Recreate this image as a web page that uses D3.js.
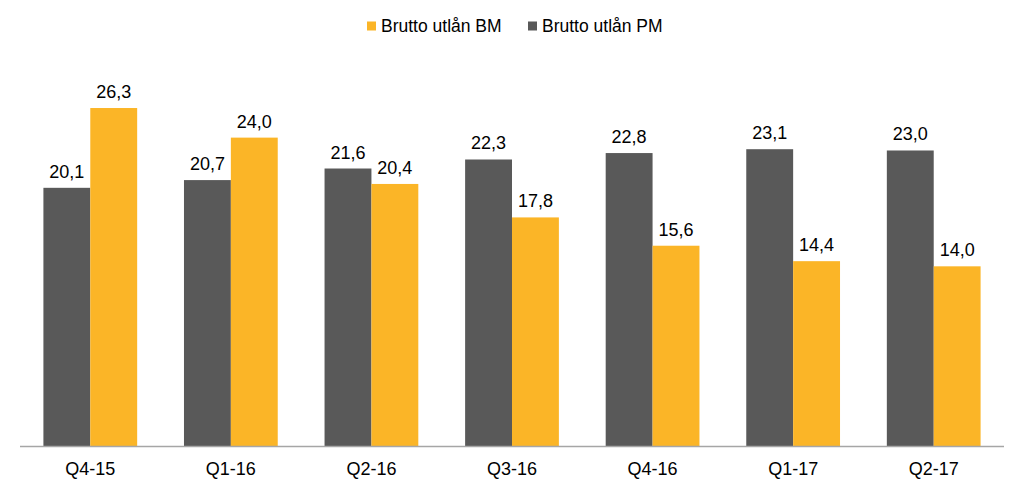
<!DOCTYPE html>
<html><head><meta charset="utf-8">
<script src="https://cdn.jsdelivr.net/npm/d3@7"></script>
<style>body{margin:0;background:#fff}svg{display:block}text{font-family:"Liberation Sans",Arial,sans-serif}</style>
</head><body>
<svg id="c" width="1024" height="490"></svg>
<script>
const categories = ["Q4-15","Q1-16","Q2-16","Q3-16","Q4-16","Q1-17","Q2-17"];
const seriesPM = [20.1,20.7,21.6,22.3,22.8,23.1,23.0];
const seriesBM = [26.3,24.0,20.4,17.8,15.6,14.4,14.0];
const seriesNames = ["Brutto utlån PM","Brutto utlån BM"];
const colors = {"Brutto utlån PM":"#595959","Brutto utlån BM":"#FBB527"};

const svg = d3.select("#c");
const x0 = d3.scaleBand().domain(categories).range([20,1004]).paddingInner(0.333).paddingOuter(0.1665);
const x1 = d3.scaleBand().domain(seriesNames).range([0,x0.bandwidth()]);
const y = d3.scaleLinear().domain([0,30]).range([446.5,60.4]);
const data = categories.map((c,i)=>({cat:c, vals:[{k:seriesNames[0],v:seriesPM[i]},{k:seriesNames[1],v:seriesBM[i]}]}));
const fmt = v => v.toFixed(1).replace(".",",");

const g = svg.selectAll("g.grp").data(data).join("g").attr("transform",d=>`translate(${x0(d.cat)},0)`);
g.selectAll("rect").data(d=>d.vals).join("rect")
  .attr("x",d=>x1(d.k)).attr("width",x1.bandwidth())
  .attr("y",d=>y(d.v)).attr("height",d=>y(0)-y(d.v)).attr("fill",d=>colors[d.k]);
g.selectAll("text").data(d=>d.vals).join("text")
  .attr("x",d=>x1(d.k)+x1.bandwidth()/2).attr("y",d=>y(d.v)-10)
  .attr("text-anchor","middle").attr("font-size",18).attr("fill","#000").text(d=>fmt(d.v));

const ax = svg.append("g").attr("transform",`translate(0,${y(0)})`)
  .call(d3.axisBottom(x0).tickSize(0).tickPadding(0));
ax.select(".domain").attr("stroke","#a6a6a6").attr("stroke-width",1.5).attr("d","M20,0H1004");
ax.selectAll("text").attr("font-size",18).attr("fill","#000").attr("dy",null).attr("y",28.5)
  .attr("font-family","Liberation Sans, Arial, sans-serif");

const legendItems = [{k:seriesNames[1],x:367},{k:seriesNames[0],x:528}];
const lg = svg.selectAll("g.lg").data(legendItems).join("g").attr("transform",d=>`translate(${d.x},0)`);
lg.append("rect").attr("x",0).attr("y",21.5).attr("width",9).attr("height",9).attr("fill",d=>colors[d.k]);
lg.append("text").attr("x",14).attr("y",32).attr("font-size",17.5).attr("fill","#000").text(d=>d.k);
</script>
</body></html>
